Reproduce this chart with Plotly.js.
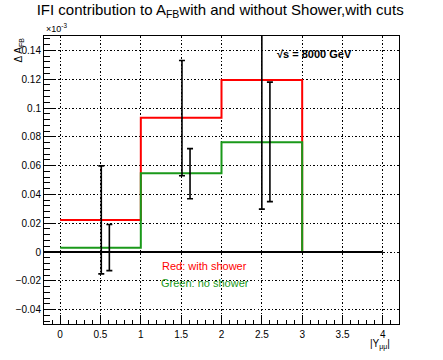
<!DOCTYPE html>
<html>
<head>
<meta charset="utf-8">
<script src="https://cdn.plot.ly/plotly-3.0.1.min.js"></script>
<style>html,body{margin:0;padding:0;background:#fff;}#chart{width:443px;height:360px;}</style>
</head>
<body>
<div id="chart"></div>
<script>
// ---- data ----
var binEdges = [0, 1, 2, 3];
var redVals = [0.0222, 0.0932, 0.1195];
var greenVals = [0.0030, 0.0547, 0.0763];
var redErrX = [0.51, 1.51, 2.50];
var redErrY = [0.0223, 0.0930, 0.1195];
var redErr = [0.0375, 0.0400, 0.0897];
var greenErrX = [0.61, 1.61, 2.60];
var greenErrY = [0.0031, 0.0544, 0.0765];
var greenErr = [0.0160, 0.0174, 0.0415];
var zeroLineX = [-0.2, 4.0];
var zeroLineY = [0, 0];
var xTicks = [0, 0.5, 1, 1.5, 2, 2.5, 3, 3.5, 4];
var xTickText = ["0", "0.5", "1", "1.5", "2", "2.5", "3", "3.5", "4"];
var yTicks = [-0.04, -0.02, 0, 0.02, 0.04, 0.06, 0.08, 0.1, 0.12, 0.14];
var yTickText = ["\u22120.04", "\u22120.02", "0", "0.02", "0.04", "0.06", "0.08", "0.1", "0.12", "0.14"];

function stepX(edges) { return edges.concat([edges[edges.length - 1]]); }
function stepY(vals) { return vals.concat([vals[vals.length - 1], 0]); }

var RED = "#ff0000", GREEN = "#1a991a";
var FONT = "Liberation Sans, Arial, sans-serif";
var DOT = "1.5px,2px";

var traces = [
  {x: stepX(binEdges), y: stepY(redVals), mode: "lines", line: {shape: "hv", color: RED, width: 2}, hoverinfo: "skip"},
  {x: stepX(binEdges), y: stepY(greenVals), mode: "lines", line: {shape: "hv", color: GREEN, width: 2}, hoverinfo: "skip"},
  {x: zeroLineX, y: zeroLineY, mode: "lines", line: {color: "#000", width: 2}, hoverinfo: "skip"},
  {x: redErrX, y: redErrY, mode: "markers", marker: {size: 1, color: "#000"},
   error_y: {type: "data", array: redErr, visible: true, color: "#000", thickness: 1.6, width: 3}},
  {x: greenErrX, y: greenErrY, mode: "markers", marker: {size: 1, color: "#000"},
   error_y: {type: "data", array: greenErr, visible: true, color: "#000", thickness: 1.6, width: 3}}
];

var layout = {
  width: 443, height: 360,
  margin: {l: 44, r: 44, t: 36, b: 36},
  paper_bgcolor: "#fff", plot_bgcolor: "#fff",
  showlegend: false,
  font: {family: FONT, size: 10, color: "#000"},
  title: {text: "IFI contribution to A<sub>FB</sub>with and without Shower,with cuts",
          font: {family: FONT, size: 15, color: "#000"},
          x: 0.497, xanchor: "center", y: 0.973, yanchor: "middle", yref: "container"},
  xaxis: {range: [-0.2, 4.2], tickvals: xTicks, ticktext: xTickText,
          ticks: "inside", ticklen: 9, tickwidth: 1, tickcolor: "#000",
          minor: {dtick: 0.1, ticks: "inside", ticklen: 4.5, tickwidth: 1, tickcolor: "#000", showgrid: false},
          showgrid: true, gridcolor: "#000", griddash: DOT, gridwidth: 1,
          showline: true, linecolor: "#000", linewidth: 1, mirror: true, zeroline: false,
          tickfont: {family: FONT, size: 10}, ticklabelstandoff: 1},
  yaxis: {range: [-0.05, 0.15], tickvals: yTicks, ticktext: yTickText,
          ticks: "inside", ticklen: 11, tickwidth: 1, tickcolor: "#000",
          minor: {dtick: 0.004, tick0: 0, ticks: "inside", ticklen: 5.5, tickwidth: 1, tickcolor: "#000", showgrid: false},
          showgrid: true, gridcolor: "#000", griddash: DOT, gridwidth: 1,
          showline: true, linecolor: "#000", linewidth: 1, mirror: true, zeroline: false,
          tickfont: {family: FONT, size: 10}, ticklabelstandoff: 0},
  annotations: [
    {text: "\u00d710<sup>-3</sup>", xref: "paper", yref: "paper", x: 0, y: 1.0, xanchor: "left", yanchor: "bottom",
     showarrow: false, font: {family: FONT, size: 9}},
    {text: "\u0394 A<sub>FB</sub>", xref: "paper", yref: "paper", x: -0.073, y: 1.0, xanchor: "center", yanchor: "top",
     textangle: -90, showarrow: false, font: {family: FONT, size: 10}},
    {text: "|Y<sub>\u03bc\u03bc</sub>|", xref: "paper", yref: "paper", x: 0.980, y: -0.042, xanchor: "right", yanchor: "top",
     showarrow: false, font: {family: FONT, size: 10}},
    {text: "<b>\u221as = 8000 GeV</b>", xref: "paper", yref: "paper", x: 0.651, y: 0.9375, xanchor: "left", yanchor: "middle",
     showarrow: false, font: {family: FONT, size: 11}},
    {text: "Red: with shower", xref: "x", yref: "y", x: 1.243, y: -0.0097, xanchor: "left", yanchor: "middle",
     showarrow: false, font: {family: FONT, size: 11, color: RED}},
    {text: "Green: no shower", xref: "x", yref: "y", x: 1.23, y: -0.0215, xanchor: "left", yanchor: "middle",
     showarrow: false, font: {family: FONT, size: 11, color: GREEN}}
  ]
};

Plotly.newPlot("chart", traces, layout, {staticPlot: true, displayModeBar: false});
</script>
</body>
</html>
